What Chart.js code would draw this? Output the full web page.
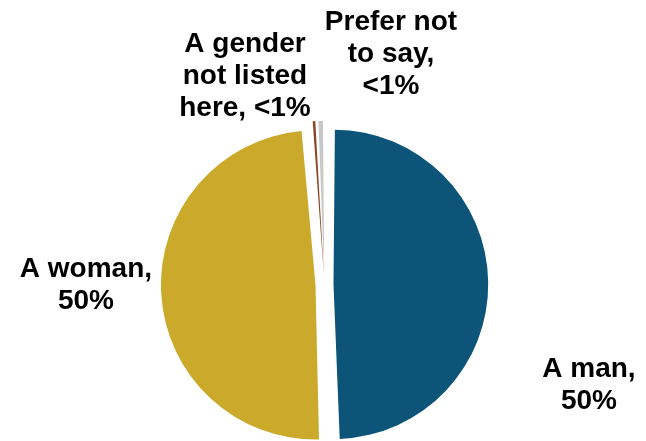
<!DOCTYPE html>
<html>
<head>
<meta charset="utf-8">
<script src="https://cdn.jsdelivr.net/npm/chart.js@4"></script>
<style>
  html, body { margin: 0; padding: 0; background: #ffffff; overflow: hidden; }
  #wrap { width: 646px; height: 441px; }
</style>
</head>
<body>
<div id="wrap"><canvas id="c" width="646" height="441"></canvas></div>
<script>
const categories = ["A man", "A woman", "A gender not listed here", "Prefer not to say"];
const shares = [49.5, 49.2, 0.55, 0.75];
const valueLabels = ["50%", "50%", "<1%", "<1%"];
const labelLines = [
  ["A man,", "50%"],
  ["A woman,", "50%"],
  ["A gender", "not listed", "here, <1%"],
  ["Prefer not", "to say,", "<1%"]
];
const colors = ["#0C5579", "#CBAA2B", "#8B4522", "#C8C8C8"];

// label anchor positions relative to pie centre, in units of the radius (styling)
const labelAnchors = [[1.706, 0.652], [-1.539, 0.006], [-0.513, -1.345], [0.429, -1.484]];

const labelPlugin = {
  id: 'sliceLabels',
  afterDatasetsDraw(chart) {
    const ctx = chart.ctx;
    const meta = chart.getDatasetMeta(0);
    const arc0 = meta.data[0];
    const cx = arc0.x, cy = arc0.y;
    const r = 155;
    ctx.save();
    ctx.fillStyle = '#000000';
    ctx.font = 'bold 28px "Liberation Sans", Arial, sans-serif';
    ctx.textAlign = 'center';
    ctx.textBaseline = 'middle';
    const lh = 32;
    labelLines.forEach((lines, i) => {
      const ax = cx + labelAnchors[i][0] * r;
      const ay = cy + labelAnchors[i][1] * r;
      const top = ay - (lines.length - 1) * lh / 2;
      lines.forEach((t, j) => ctx.fillText(t, ax, top + j * lh));
    });
    ctx.restore();
  }
};

new Chart(document.getElementById('c'), {
  type: 'pie',
  data: {
    labels: categories,
    datasets: [{
      data: shares,
      backgroundColor: colors,
      borderWidth: 0,
      offset: 36,
      radius: 146
    }]
  },
  options: {
    responsive: false,
    animation: false,
    events: [],
    radius: 146,
    layout: { padding: { top: 128, left: 3, right: 0, bottom: 0 } },
    plugins: { legend: { display: false }, tooltip: { enabled: false } }
  },
  plugins: [labelPlugin]
});
</script>
</body>
</html>
